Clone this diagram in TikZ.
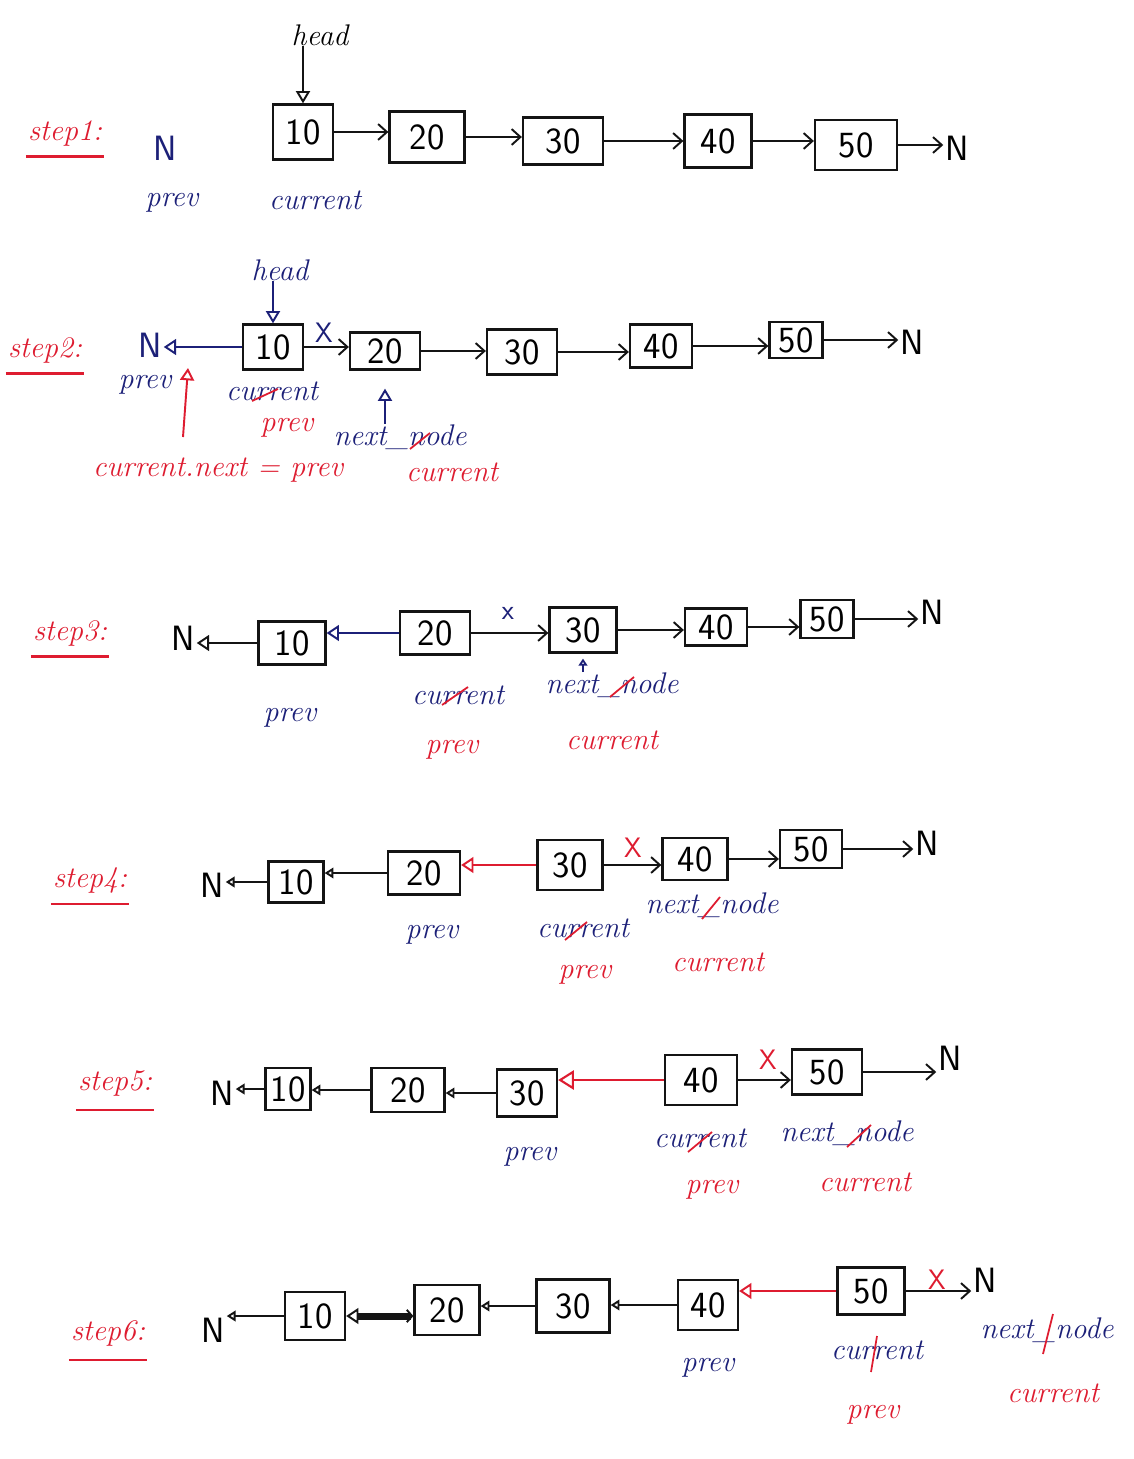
\documentclass[tikz,border=0pt]{standalone}
\usetikzlibrary{arrows.meta}
\definecolor{ink}{RGB}{20,20,20}
\definecolor{rd}{RGB}{222,28,48}
\definecolor{bl}{RGB}{28,32,120}
\tikzset{
  nb/.style 2 args={draw=ink, line width=1.3pt, minimum width=#1*0.02cm, minimum height=#2*0.02cm, inner sep=0pt, font=\fontsize{21}{23}\selectfont\sffamily},
  nn/.style={font=\fontsize{20}{22}\selectfont\sffamily, inner sep=1pt},
  lbl/.style={font=\fontsize{17}{19}\selectfont\itshape, inner sep=0pt},
  steplbl/.style={font=\fontsize{17}{19}\selectfont\itshape, text=rd, inner sep=1pt},
  uline/.style={draw=rd, line width=1.4pt},
  arr/.style={draw=ink, line width=1.1pt, -{Straight Barb[length=5pt,width=9pt]}},
  back/.style={line width=1.1pt, -{Triangle[open,length=7pt,width=9pt]}},
  smallback/.style={draw=ink, line width=1.1pt, -{Triangle[open,length=5pt,width=6pt]}},
  strike/.style={draw=rd, line width=1pt},
  xm/.style={font=\fontsize{16}{18}\selectfont\sffamily, inner sep=0pt}
}
\begin{document}
\begin{tikzpicture}[x=0.02cm,y=-0.02cm]
\useasboundingbox[fill=white] (0,0) rectangle (1133,1459);

% ---------------- step 1 ----------------
\node[steplbl] (s1) at (65,133) {step1:};
\draw[uline] ([yshift=-5pt]s1.south west) -- ([yshift=-5pt]s1.south east);
\node[lbl] (h1) at (320,35) {head};
\node[nn, text=bl] (n1l) at (165,148) {N};
\node[nb={60}{55}] (a10) at (303,132) {10};
\node[nb={75}{51}] (a20) at (427,137) {20};
\node[nb={80}{47}] (a30) at (563,141) {30};
\node[nb={67}{53}] (a40) at (718,141) {40};
\node[nb={82}{50}] (a50) at (856,145) {50};
\node[nn] (n1r) at (957,148) {N};
\draw[ink, line width=1.1pt, -{Triangle[open,length=7pt,width=8pt]}] (a10.north |- h1.south) -- (a10.north);
\draw[arr] (a10.east) -- (a10.east -| a20.west);
\draw[arr] (a20.east) -- (a20.east -| a30.west);
\draw[arr] (a30.east) -- (a30.east -| a40.west);
\draw[arr] (a40.east) -- (a40.east -| a50.west);
\draw[arr] (a50.east) -- (a50.east -| n1r.west);
\node[lbl, text=bl] (p1) at (172,203) {prev};
\node[lbl, text=bl] (c1) at (315,200) {current};

% ---------------- step 2 ----------------
\node[steplbl] (s2) at (45,350) {step2:};
\draw[uline] ([yshift=-5pt]s2.south west) -- ([yshift=-5pt]s2.south east);
\node[lbl, text=bl] (h2) at (280,270) {head};
\node[nn, text=bl] (n2l) at (150,345) {N};
\node[nb={60}{45}] (b10) at (273,347) {10};
\node[nb={70}{37}] (b20) at (385,351) {20};
\node[nb={70}{45}] (b30) at (522,352) {30};
\node[nb={62}{43}] (b40) at (661,346) {40};
\node[nb={53}{36}] (b50) at (796,340) {50};
\node[nn] (n2r) at (912,342) {N};
\draw[bl, line width=1.1pt, -{Triangle[open,length=7pt,width=8pt]}] (b10.north |- h2.south) -- (b10.north);
\draw[back, draw=bl] (b10.west) -- (b10.west -| n2l.east);
\draw[arr] (b10.east) -- (b10.east -| b20.west);
\node[xm, text=bl] (x2) at (324,333) {X};
\draw[arr] (b20.east) -- (b20.east -| b30.west);
\draw[arr] (b30.east) -- (b30.east -| b40.west);
\draw[arr] (b40.east) -- (b40.east -| b50.west);
\draw[arr] (b50.east) -- (b50.east -| n2r.west);
\node[lbl, text=bl] (p2) at (145,385) {prev};
\node[lbl, text=bl] (c2) at (272,391) {current};
\draw[strike] ([shift={(-20,10)}]c2.center) -- ([shift={(6,-2)}]c2.center);
\node[lbl, text=rd] (p2r) at (287,428) {prev};
\node[lbl, text=bl] (nx2) at (400,437) {next\_node};
\draw[strike] ([shift={(10,12)}]nx2.center) -- ([shift={(30,-4)}]nx2.center);
\draw[bl, line width=1.1pt, -{Triangle[open,length=7pt,width=8pt]}] (nx2.north -| b20.south) -- ([yshift=-0.36cm]b20.south);
\node[lbl, text=rd] (f2) at (218,470) {current.next = prev};
\coordinate (r2a) at (183,437);
\coordinate (r2b) at (188,368);
\draw[rd, line width=1.1pt, -{Triangle[open,length=7pt,width=8pt]}] (r2a) -- (r2b);
\node[lbl, text=rd] (c2r) at (452,472) {current};

% ---------------- step 3 ----------------
\node[steplbl] (s3) at (70,633) {step3:};
\draw[uline] ([yshift=-5pt]s3.south west) -- ([yshift=-5pt]s3.south east);
\node[nn] (n3l) at (183,638) {N};
\node[nb={67}{43}] (c10) at (292,643) {10};
\node[nb={70}{43}] (c20) at (435,633) {20};
\node[nb={67}{45}] (c30) at (583,630) {30};
\node[nb={62}{37}] (c40) at (716,627) {40};
\node[nb={53}{38}] (c50) at (827,619) {50};
\node[nn] (n3r) at (932,612) {N};
\draw[back, draw=ink] (c10.west) -- (c10.west -| n3l.east);
\draw[back, draw=bl] (c20.west) -- (c20.west -| c10.east);
\draw[arr] (c20.east) -- (c20.east -| c30.west);
\node[xm, text=bl] (x3) at (508,613) {x};
\draw[arr] (c30.east) -- (c30.east -| c40.west);
\draw[arr] (c40.east) -- (c40.east -| c50.west);
\draw[arr] (c50.east) -- (c50.east -| n3r.west);
\node[lbl, text=bl] (p3) at (290,718) {prev};
\node[lbl, text=bl] (c3) at (458,695) {current};
\draw[strike] ([shift={(-16,10)}]c3.center) -- ([shift={(10,-8)}]c3.center);
\node[lbl, text=bl] (nx3) at (612,685) {next\_node};
\draw[strike] ([shift={(-2,12)}]nx3.center) -- ([shift={(22,-8)}]nx3.center);
\draw[bl, line width=1pt, -{Triangle[open,length=4pt,width=5pt]}] (c30.south |- nx3.north) -- ([yshift=-0.1cm]c30.south);
\node[lbl, text=rd] (p3r) at (452,750) {prev};
\node[lbl, text=rd] (c3r) at (612,740) {current};

% ---------------- step 4 ----------------
\node[steplbl] (s4) at (90,880) {step4:};
\draw[uline] ([yshift=-5pt]s4.south west) -- ([yshift=-5pt]s4.south east);
\node[nn] (n4l) at (212,885) {N};
\node[nb={55}{41}] (d10) at (296,882) {10};
\node[nb={72}{43}] (d20) at (424,873) {20};
\node[nb={65}{50}] (d30) at (570,865) {30};
\node[nb={65}{42}] (d40) at (695,859) {40};
\node[nb={62}{38}] (d50) at (811,849) {50};
\node[nn] (n4r) at (927,843) {N};
\draw[smallback] (d10.west) -- (d10.west -| n4l.east);
\draw[smallback] (d20.west) -- (d20.west -| d10.east);
\draw[back, draw=rd] (d30.west) -- (d30.west -| d20.east);
\draw[arr] (d30.east) -- (d30.east -| d40.west);
\node[xm, text=rd] (x4) at (633,848) {X};
\draw[arr] (d40.east) -- (d40.east -| d50.west);
\draw[arr] (d50.east) -- (d50.east -| n4r.west);
\node[lbl, text=bl] (p4) at (432,935) {prev};
\node[lbl, text=bl] (c4) at (583,928) {current};
\draw[strike] ([shift={(-18,12)}]c4.center) -- ([shift={(4,-6)}]c4.center);
\node[lbl, text=bl] (nx4) at (712,905) {next\_node};
\draw[strike] ([shift={(-10,14)}]nx4.center) -- ([shift={(8,-8)}]nx4.center);
\node[lbl, text=rd] (p4r) at (585,975) {prev};
\node[lbl, text=rd] (c4r) at (718,962) {current};

% ---------------- step 5 ----------------
\node[steplbl] (s5) at (115,1083) {step5:};
\draw[uline] ([yshift=-7pt]s5.south west) -- ([yshift=-7pt]s5.south east);
\node[nn] (n5l) at (222,1093) {N};
\node[nb={45}{42}] (e10) at (288,1089) {10};
\node[nb={73}{44}] (e20) at (408,1090) {20};
\node[nb={60}{47}] (e30) at (527,1093) {30};
\node[nb={72}{50}] (e40) at (701,1080) {40};
\node[nb={70}{45}] (e50) at (827,1072) {50};
\node[nn] (n5r) at (950,1058) {N};
\draw[smallback] (e10.west) -- (e10.west -| n5l.east);
\draw[smallback] (e20.west) -- (e20.west -| e10.east);
\draw[smallback] (e30.west) -- (e30.west -| e20.east);
\draw[rd, line width=1.2pt, -{Triangle[open,length=9pt,width=11pt]}] (e40.west) -- (e40.west -| e30.east);
\draw[arr] (e40.east) -- (e40.east -| e50.west);
\node[xm, text=rd] (x5) at (768,1060) {X};
\draw[arr] (e50.east) -- (e50.east -| n5r.west);
\node[lbl, text=bl] (p5) at (530,1157) {prev};
\node[lbl, text=bl] (c5) at (700,1138) {current};
\draw[strike] ([shift={(-12,14)}]c5.center) -- ([shift={(12,-6)}]c5.center);
\node[lbl, text=bl] (nx5) at (847,1133) {next\_node};
\draw[strike] ([shift={(0,14)}]nx5.center) -- ([shift={(24,-8)}]nx5.center);
\node[lbl, text=rd] (p5r) at (712,1190) {prev};
\node[lbl, text=rd] (c5r) at (865,1182) {current};

% ---------------- step 6 ----------------
\node[steplbl] (s6) at (108,1333) {step6:};
\draw[uline] ([yshift=-7pt]s6.south west) -- ([yshift=-7pt]s6.south east);
\node[nn] (n6l) at (213,1330) {N};
\node[nb={60}{48}] (f10) at (315,1316) {10};
\node[nb={65}{50}] (f20) at (447,1310) {20};
\node[nb={73}{53}] (f30) at (573,1306) {30};
\node[nb={60}{50}] (f40) at (708,1305) {40};
\node[nb={67}{47}] (f50) at (871,1291) {50};
\node[nn] (n6r) at (985,1280) {N};
\draw[smallback] (f10.west) -- (f10.west -| n6l.east);
\draw[ink, line width=4pt, {Triangle[open,length=7pt,width=9pt,line width=1.1pt]}-{Straight Barb[length=3pt,width=7pt,line width=1.1pt]}] (f10.east) -- (f10.east -| f20.west);
\draw[smallback] (f30.west) -- (f30.west -| f20.east);
\draw[smallback] (f40.west) -- (f40.west -| f30.east);
\draw[back, draw=rd] (f50.west) -- (f50.west -| f40.east);
\draw[arr] (f50.east) -- (f50.east -| n6r.west);
\node[xm, text=rd] (x6) at (937,1280) {X};
\node[lbl, text=bl] (p6) at (708,1368) {prev};
\node[lbl, text=bl] (c6) at (877,1350) {current};
\draw[strike] ([shift={(-6,22)}]c6.center) -- ([shift={(0,-14)}]c6.center);
\node[lbl, text=bl] (nx6) at (1047,1330) {next\_node};
\draw[strike] ([shift={(-4,24)}]nx6.center) -- ([shift={(6,-16)}]nx6.center);
\node[lbl, text=rd] (p6r) at (873,1415) {prev};
\node[lbl, text=rd] (c6r) at (1053,1393) {current};
\end{tikzpicture}
\end{document}
